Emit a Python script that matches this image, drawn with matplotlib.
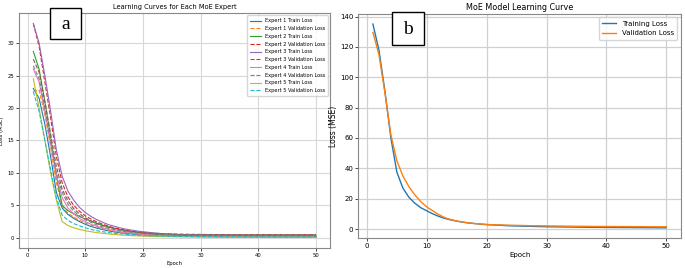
import matplotlib.pyplot as plt
from matplotlib.patches import Rectangle

epochs = list(range(1, 51))

# panel a: per-expert losses
e1_train = [23.0, 21.5, 17.5, 12.5, 7.0, 4.6, 3.6, 3.0, 2.5, 2.1, 1.75, 1.5, 1.28, 1.08, 0.92, 0.8, 0.7, 0.61, 0.53, 0.47,
            0.42, 0.37, 0.33, 0.3, 0.28, 0.26, 0.24, 0.23, 0.22, 0.21, 0.2, 0.19, 0.18, 0.18, 0.17, 0.17, 0.16, 0.16, 0.15, 0.15,
            0.15, 0.14, 0.14, 0.14, 0.13, 0.13, 0.13, 0.13, 0.12, 0.12]
e1_val = [22.5, 22.8, 19.0, 14.0, 8.5, 5.0, 3.8, 3.2, 2.7, 2.3, 1.95, 1.65, 1.4, 1.2, 1.02, 0.88, 0.77, 0.68, 0.6, 0.54,
          0.49, 0.45, 0.42, 0.4, 0.38, 0.37, 0.36, 0.35, 0.34, 0.34, 0.33, 0.33, 0.32, 0.32, 0.32, 0.31, 0.31, 0.31, 0.31, 0.3,
          0.3, 0.3, 0.3, 0.3, 0.3, 0.3, 0.3, 0.3, 0.3, 0.3]
e2_train = [28.7, 26.0, 21.0, 15.5, 9.5, 5.0, 4.2, 3.7, 3.3, 2.9, 2.6, 2.25, 1.95, 1.7, 1.48, 1.28, 1.1, 0.95, 0.83, 0.72,
            0.63, 0.56, 0.5, 0.45, 0.41, 0.38, 0.35, 0.33, 0.31, 0.29, 0.28, 0.27, 0.26, 0.25, 0.24, 0.24, 0.23, 0.23, 0.22, 0.22,
            0.22, 0.21, 0.21, 0.21, 0.2, 0.2, 0.2, 0.2, 0.2, 0.2]
e2_val = [33.0, 29.5, 24.0, 18.5, 12.5, 8.5, 6.3, 5.0, 4.1, 3.4, 2.9, 2.45, 2.1, 1.8, 1.55, 1.35, 1.18, 1.03, 0.92, 0.83,
          0.76, 0.7, 0.66, 0.62, 0.6, 0.58, 0.56, 0.55, 0.54, 0.53, 0.52, 0.52, 0.51, 0.51, 0.5, 0.5, 0.5, 0.5, 0.5, 0.5,
          0.5, 0.5, 0.5, 0.5, 0.5, 0.5, 0.5, 0.5, 0.5, 0.5]
e3_train = [33.0, 30.0, 25.0, 19.5, 13.5, 9.5, 7.2, 5.8, 4.7, 3.9, 3.3, 2.8, 2.4, 2.05, 1.8, 1.55, 1.35, 1.2, 1.05, 0.95,
            0.85, 0.76, 0.68, 0.62, 0.57, 0.52, 0.49, 0.46, 0.43, 0.41, 0.4, 0.39, 0.38, 0.37, 0.37, 0.36, 0.36, 0.36, 0.35, 0.35,
            0.35, 0.35, 0.35, 0.35, 0.35, 0.35, 0.35, 0.35, 0.35, 0.35]
e3_val = [27.5, 25.5, 21.0, 16.0, 11.0, 7.5, 5.7, 4.5, 3.7, 3.1, 2.6, 2.2, 1.9, 1.63, 1.42, 1.25, 1.1, 0.98, 0.88, 0.8,
          0.72, 0.66, 0.61, 0.57, 0.54, 0.52, 0.5, 0.49, 0.48, 0.47, 0.47, 0.46, 0.46, 0.46, 0.45, 0.45, 0.45, 0.45, 0.45, 0.45,
          0.45, 0.45, 0.45, 0.45, 0.45, 0.45, 0.45, 0.45, 0.45, 0.45]
e4_train = [26.0, 24.0, 19.5, 14.5, 9.5, 6.2, 4.6, 3.7, 3.0, 2.5, 2.1, 1.8, 1.52, 1.3, 1.1, 0.95, 0.82, 0.71, 0.61, 0.52,
            0.45, 0.39, 0.34, 0.3, 0.27, 0.25, 0.23, 0.21, 0.2, 0.19, 0.18, 0.18, 0.17, 0.17, 0.16, 0.16, 0.16, 0.16, 0.15, 0.15,
            0.15, 0.15, 0.15, 0.15, 0.15, 0.15, 0.15, 0.15, 0.15, 0.15]
e4_val = [26.5, 24.5, 20.0, 15.0, 10.0, 7.0, 5.2, 4.1, 3.4, 2.8, 2.4, 2.0, 1.7, 1.48, 1.28, 1.1, 0.96, 0.85, 0.76, 0.68,
          0.62, 0.57, 0.53, 0.51, 0.49, 0.48, 0.47, 0.46, 0.46, 0.45, 0.45, 0.45, 0.45, 0.45, 0.45, 0.45, 0.45, 0.45, 0.45, 0.45,
          0.45, 0.45, 0.45, 0.45, 0.45, 0.45, 0.45, 0.45, 0.45, 0.45]
e5_train = [24.5, 20.0, 15.0, 10.0, 5.8, 2.5, 1.9, 1.55, 1.3, 1.1, 0.95, 0.8, 0.7, 0.6, 0.52, 0.45, 0.4, 0.35, 0.3, 0.27,
            0.24, 0.22, 0.2, 0.18, 0.17, 0.16, 0.15, 0.14, 0.13, 0.13, 0.12, 0.12, 0.12, 0.11, 0.11, 0.11, 0.11, 0.1, 0.1, 0.1,
            0.1, 0.1, 0.1, 0.1, 0.1, 0.1, 0.1, 0.1, 0.1, 0.1]
e5_val = [22.5, 19.5, 15.0, 10.5, 6.2, 3.5, 2.7, 2.2, 1.85, 1.55, 1.3, 1.1, 0.95, 0.82, 0.71, 0.62, 0.54, 0.47, 0.42, 0.37,
          0.33, 0.3, 0.28, 0.26, 0.24, 0.23, 0.22, 0.21, 0.2, 0.19, 0.19, 0.18, 0.18, 0.17, 0.17, 0.17, 0.16, 0.16, 0.16, 0.16,
          0.16, 0.15, 0.15, 0.15, 0.15, 0.15, 0.15, 0.15, 0.15, 0.15]

# panel b: whole model
moe_train = [135.0, 118.0, 91.0, 60.0, 37.5, 27.0, 21.0, 17.0, 14.0, 12.0, 10.0, 8.3, 7.0, 6.0, 5.2, 4.5, 4.0, 3.6, 3.2, 2.9,
             2.7, 2.5, 2.3, 2.1, 2.0, 1.9, 1.8, 1.7, 1.6, 1.5, 1.45, 1.4, 1.35, 1.3, 1.25, 1.2, 1.15, 1.1, 1.1, 1.05,
             1.0, 1.0, 0.95, 0.95, 0.9, 0.9, 0.85, 0.85, 0.8, 0.8]
moe_val = [129.5, 115.0, 90.0, 62.0, 45.0, 35.0, 28.0, 22.5, 18.0, 14.5, 12.0, 9.5, 7.5, 6.2, 5.3, 4.6, 4.0, 3.6, 3.3, 3.0,
           2.8, 2.7, 2.6, 2.5, 2.4, 2.3, 2.2, 2.15, 2.1, 2.05, 2.0, 1.95, 1.9, 1.85, 1.8, 1.8, 1.75, 1.7, 1.7, 1.65,
           1.65, 1.6, 1.6, 1.6, 1.55, 1.55, 1.5, 1.5, 1.5, 1.5]

experts = [(e1_train, e1_val), (e2_train, e2_val), (e3_train, e3_val), (e4_train, e4_val), (e5_train, e5_val)]

fig = plt.figure(figsize=(6.85, 2.68), dpi=100)
ax1 = fig.add_axes([0.028, 0.075, 0.454, 0.877])
ax2 = fig.add_axes([0.523, 0.112, 0.471, 0.836])

for i, (tr, va) in enumerate(experts):
    ax1.plot(epochs, tr, '-', linewidth=0.8, label=f"Expert {i + 1} Train Loss")
    ax1.plot(epochs, va, '--', linewidth=0.8, label=f"Expert {i + 1} Validation Loss")

ax1.set_title("Learning Curves for Each MoE Expert", fontsize=4.8, pad=3)
ax1.set_xlabel("Epoch", fontsize=3.8, labelpad=2)
ax1.set_ylabel("Loss (MSE)", fontsize=3.8)
ax1.yaxis.set_label_coords(-0.048, 0.5)
ax1.tick_params(labelsize=3.8, length=2, width=0.5, pad=1.5)
ax1.grid(True, color="#d8d8d8", linewidth=0.8)
ax1.legend(fontsize=3.6, loc="upper right", handlelength=2.2, labelspacing=0.55, borderpad=0.6)

ax2.plot(epochs, moe_train, linewidth=1.0, label="Training Loss")
ax2.plot(epochs, moe_val, linewidth=1.0, label="Validation Loss")
ax2.set_title("MoE Model Learning Curve", fontsize=5.8, pad=3)
ax2.set_xlabel("Epoch", fontsize=5, labelpad=2)
ax2.set_ylabel("Loss (MSE)", fontsize=5.5)
ax2.yaxis.set_label_coords(-0.062, 0.5)
ax2.tick_params(labelsize=5, length=2, width=0.5, pad=1.5)
ax2.grid(True, color="#d0d0d0", linewidth=0.9)
ax2.legend(fontsize=5, loc="upper right", handlelength=2.0, borderpad=0.5)

for ax in (ax1, ax2):
    for s in ax.spines.values():
        s.set_color("#888888")
        s.set_linewidth(0.8)
    ax.set_axisbelow(True)

# panel tags "a" and "b"
for (x0, y0, w, h, tag) in [(50, 8, 31, 31, "a"), (392, 12, 32, 33, "b")]:
    fig.patches.append(Rectangle((x0 / 685, 1 - (y0 + h) / 268), w / 685, h / 268,
                                 transform=fig.transFigure, fill=True, facecolor="white",
                                 edgecolor="black", linewidth=1.0, zorder=10))
    fig.text((x0 + w / 2) / 685, 1 - (y0 + h / 2 + 1) / 268, tag, fontsize=14,
             family="Liberation Serif", ha="center", va="center", zorder=11)

fig.savefig("out.png", dpi=100)
